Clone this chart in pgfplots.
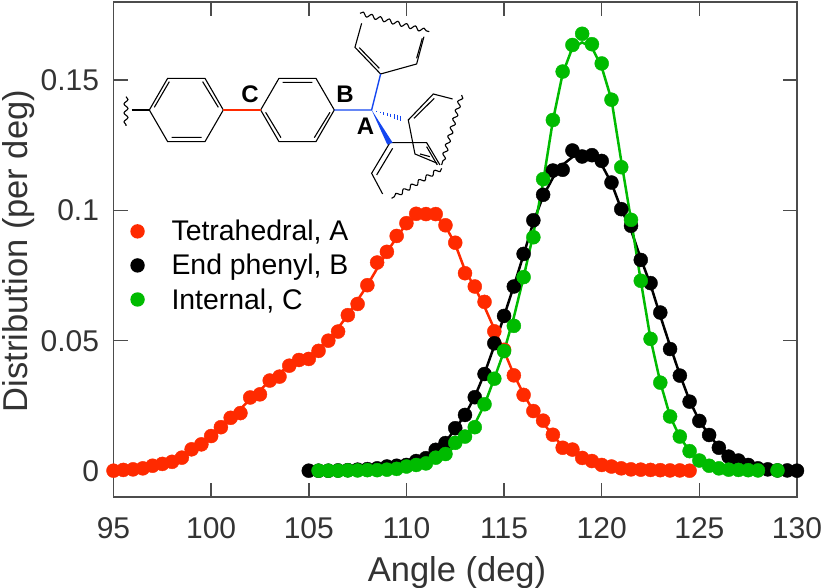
\documentclass[border=0pt]{standalone}
\usepackage{fontspec}
\setmainfont{Liberation Sans}
\usepackage{pgfplots}
\usepackage{pgfplotstable}
\pgfplotsset{compat=1.18}
\usetikzlibrary{decorations.pathmorphing}
\definecolor{cred}{RGB}{255,42,0}
\definecolor{cgreen}{RGB}{0,187,0}
\definecolor{cblue}{RGB}{20,70,240}
\definecolor{cframe}{gray}{0.3}
\definecolor{ctext}{gray}{0.2}

% marker data
\pgfplotstableread{
x y
95 .0001
95.5 .0004
96 .0006
96.5 .001
97 .002
97.5 .0027
98 .0035
98.5 .0051
99 .0083
99.5 .0102
100 .0134
100.5 .0168
101 .0204
101.5 .0222
102 .0282
102.5 .0294
103 .0347
103.5 .0362
104 .0404
104.5 .0426
105 .043
105.5 .0461
106 .05
106.5 .0535
107 .0598
107.5 .0641
108 .0713
108.5 .08
109 .0841
109.5 .0902
110 .0951
110.5 .0987
111 .0986
111.5 .0986
112 .0943
112.5 .0876
113 .0759
113.5 .0708
114 .0649
114.5 .0536
115 .0465
115.5 .0367
116 .0292
116.5 .023
117 .0193
117.5 .0139
118 .0089
118.5 .0082
119 .005
119.5 .0038
120 .0023
120.5 .0017
121 .001
121.5 .0006
122 .0005
122.5 .0004
123 .0003
123.5 .0002
124 .0002
124.5 .0001
}\tetra
\pgfplotstableread{
x y
105 .0001
105.5 .0001
106 .0001
106.5 .0002
107 .0003
107.5 .0005
108 .0007
108.5 .001
109 .0017
109.5 .002
110 .0023
110.5 .0038
111 .0049
111.5 .0081
112 .0107
112.5 .0164
113 .0215
113.5 .0283
114 .0372
114.5 .049
115 .0595
115.5 .0708
116 .0833
116.5 .0962
117 .106
117.5 .1153
118 .1156
118.5 .123
119 .1207
119.5 .1212
120 .119
120.5 .1107
121 .1005
121.5 .0941
122 .081
122.5 .0721
123 .0608
123.5 .0468
124 .0366
124.5 .0266
125 .0192
125.5 .0138
126 .0089
126.5 .0055
127 .004
127.5 .0023
128 .001
128.5 .0006
129 .0002
129.5 .0002
130 .0001
}\endphenyl
\pgfplotstableread{
x y
105.5 .0001
106 .0001
106.5 .0001
107 .0002
107.5 .0002
108 .0003
108.5 .0003
109 .0005
109.5 .0008
110 .0017
110.5 .0023
111 .0029
111.5 .0051
112 .0065
112.5 .0108
113 .0132
113.5 .0168
114 .0256
114.5 .0354
115 .046
115.5 .0557
116 .0744
116.5 .0897
117 .112
117.5 .1347
118 .1533
118.5 .1635
119 .1678
119.5 .1638
120 .1564
120.5 .1425
121 .1166
121.5 .0964
122 .073
122.5 .0507
123 .0339
123.5 .0209
124 .0132
124.5 .0076
125 .004
125.5 .002
126 .001
126.5 .0005
127 .0004
127.5 .0003
128 .0002
129 .0002
}\internal

% fitted lines, read separately
\pgfplotstableread{
x y
95 .0002
96 .0006
97 .002
98 .0037
99 .0078
100 .0134
101 .0201
102 .0275
103 .0345
104 .0405
105 .044
106 .05
107 .0598
108 .0713
109 .0841
110 .095
110.5 .0975
111 .0985
111.5 .098
112 .094
112.5 .087
113 .077
113.5 .0705
114 .063
114.5 .0545
115 .046
115.5 .037
116 .0295
116.5 .023
117 .0185
117.5 .0135
118 .0095
119 .005
120 .0025
121 .001
122 .0005
124.5 .0001
}\tetrafit
\pgfplotstableread{
x y
105 .0001
107 .0003
108 .0007
109 .0015
110 .0025
111 .0055
112 .011
113 .0215
113.5 .0285
114 .0375
114.5 .048
115 .0595
115.5 .071
116 .083
116.5 .0955
117 .1055
117.5 .1125
118 .1175
118.5 .1205
119 .1215
119.5 .1205
120 .1175
120.5 .1105
121 .1005
121.5 .0925
122 .0815
122.5 .0715
123 .0595
123.5 .048
124 .037
124.5 .027
125 .0192
125.5 .0138
126 .0092
127 .004
128 .0012
129 .0003
130 .0001
}\endfit
\pgfplotstableread{
x y
105.5 .0001
107 .0002
108 .0003
109 .0006
110 .0015
111 .003
112 .0065
112.5 .0095
113 .013
113.5 .018
114 .0255
114.5 .0355
115 .046
115.5 .059
116 .0744
116.5 .091
117 .111
117.5 .1345
118 .1525
118.5 .1625
119 .1645
119.5 .1625
120 .155
120.5 .1425
121 .119
121.5 .0964
122 .073
122.5 .0507
123 .034
123.5 .021
124 .013
124.5 .0076
125 .004
126 .001
127 .0004
129 .0002
}\internalfit

\begin{document}
\begin{tikzpicture}
\path[use as bounding box] (-113.5bp,-91bp) rectangle (708.5bp,497bp);
\begin{axis}[
    scale only axis,
    width=683.5bp, height=495bp,
    xmin=95, xmax=130,
    ymin=-0.01, ymax=0.18,
    xtick={95,100,...,130},
    ytick={0,0.05,0.1,0.15},
    yticklabels={0,0.05,0.1,0.15},
    tick align=inside,
    major tick length=14bp,
    axis line style={cframe,line width=1.5bp},
    tick style={cframe,line width=1.5bp},
    clip=false,
    /pgf/number format/assume math mode=true,
    tick label style={font=\fontsize{30bp}{32bp}\selectfont,text=ctext},
    xticklabel style={anchor=base,yshift=-41bp},
    yticklabel style={xshift=-11bp},
    xlabel={Angle (deg)},
    ylabel={Distribution (per deg)},
    label style={font=\fontsize{34.5bp}{36bp}\selectfont,text=ctext},
    xlabel style={at={(axis description cs:0.5026,0)},anchor=base,yshift=-84.7bp},
    ylabel style={at={(axis description cs:0,0.497)},anchor=base,yshift=86bp},
    legend style={draw=none,fill=none,at={(axis cs:95.7,0.0978)},anchor=north west,
      font=\fontsize{28.4bp}{30bp}\selectfont,row sep=8bp},
    legend cell align=left,
    legend image code/.code={\fill[#1] (0,0) circle[radius=7.2bp];\path (-7.2bp,0) (32bp,0);},
    ]
\addplot[forget plot,cred,line width=2.5bp,no marks] table {\tetrafit};
\addplot[only marks,mark=*,mark size=7bp,mark options={draw=cred,fill=cred,line width=0.4bp},fill=cred,draw=none] table {\tetra};
\addplot[forget plot,black,line width=2.5bp,no marks] table {\endfit};
\addplot[only marks,mark=*,mark size=7bp,mark options={draw=black,fill=black,line width=0.4bp},fill=black,draw=none] table {\endphenyl};
\addplot[forget plot,cgreen,line width=2.5bp,no marks] table {\internalfit};
\addplot[only marks,mark=*,mark size=7bp,mark options={draw=cgreen,fill=cgreen,line width=0.4bp},fill=cgreen,draw=none] table {\internal};
\legend{{Tetrahedral, A},{End phenyl, B},{Internal, C}}
\end{axis}

% molecule sketch, coordinates taken in 3x zoom units from pixel x=100
\begin{scope}[x=0.3333bp,y=-0.3333bp,shift={(-13.5bp,497bp)},line width=1.1bp,black]
% rings
\draw (148,330)--(203,235)--(315,235)--(370,330)--(315,425)--(203,425)--cycle;
\draw (163,322)--(208,245) (308,245)--(355,322) (215,412)--(305,412);
\draw (95,330)--(148,330);
\draw (482,330)--(537,235)--(648,235)--(703,330)--(648,425)--(537,425)--cycle;
\draw (548,247)--(637,247) (497,337)--(543,413) (690,337)--(643,413);
% upper ring
\draw (785,70)--(765,142)--(842,222)--(950,192)--(972,110);
\draw (778,143)--(838,205) (950,175)--(967,115);
% lower ring
\draw (848,582)--(815,520)--(870,428)--(980,428)--(1020,495);
\draw (830,525)--(878,445) (980,440)--(1012,495);
% back ring
\draw (1058,297)--(1000,282)--(925,360)--(945,462)--(1012,490);
\draw (942,355)--(1003,295) (960,462)--(990,470);
% wavy ends
\draw[decorate,decoration={snake,amplitude=2bp,segment length=9bp}] (78,290)--(78,378);
\draw[decorate,decoration={snake,amplitude=2bp,segment length=9bp}] (780,40)--(988,95);
\draw[decorate,decoration={snake,amplitude=2bp,segment length=9bp}] (1085,285)--(1025,495);
\draw[decorate,decoration={snake,amplitude=2bp,segment length=9bp}] (1025,505)--(875,595);
% coloured bonds
\draw[cred,line width=1.4bp] (370,330)--(482,330);
\draw[cblue,line width=1.4bp] (703,330)--(815,330)--(842,222);
\fill[cblue] (815,330)--(878,428)--(862,434)--cycle;
\foreach \t in {0.15,0.25,...,0.95}{
  \draw[cblue,line width=0.8bp] ({815+103*\t},{330+30*\t-10*\t})--({815+103*\t},{330+30*\t+10*\t});
}
\node[font=\bfseries\fontsize{24bp}{26bp}\selectfont,inner sep=0pt] at (450,282) {C};
\node[font=\bfseries\fontsize{24bp}{26bp}\selectfont,inner sep=0pt] at (735,282) {B};
\node[font=\bfseries\fontsize{24bp}{26bp}\selectfont,inner sep=0pt] at (797,378) {A};
\end{scope}
\end{tikzpicture}
\end{document}
